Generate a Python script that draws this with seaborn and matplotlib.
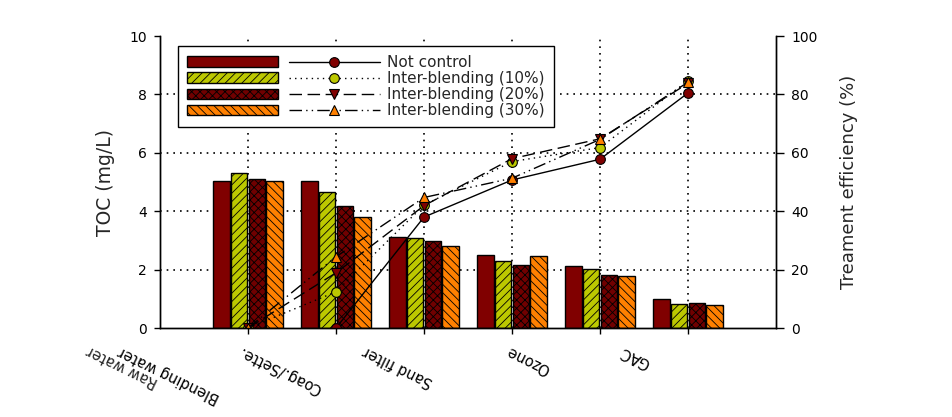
import matplotlib
matplotlib.use("Agg")
import numpy as np
import pandas as pd
import matplotlib.pyplot as plt
import seaborn as sns
from matplotlib.patches import Patch
from matplotlib.lines import Line2D
from matplotlib.legend_handler import HandlerTuple
from matplotlib.transforms import blended_transform_factory

# treatment stages (x tick labels) and where their labels sit
stages = ["Blending water", "Coag./Sette.", "Sand filter", "Ozone", "GAC"]
label_pos = [0.10, 1.365, 2.70, 4.19, 5.40]
extra_stage = "Raw water"
extra_pos = -0.43
group_pos = [1, 2, 3, 4, 5, 6]

series = ["Not control", "Inter-blending (10%)", "Inter-blending (20%)", "Inter-blending (30%)"]

# TOC (mg/L), bars
toc_not_control = [5.03, 5.03, 3.10, 2.50, 2.11, 0.99]
toc_blend10 = [5.30, 4.65, 3.07, 2.28, 2.01, 0.81]
toc_blend20 = [5.12, 4.17, 2.98, 2.15, 1.82, 0.85]
toc_blend30 = [5.03, 3.79, 2.81, 2.45, 1.77, 0.78]

# treatment efficiency (%), lines
eff_x_not_control = [2, 3, 4, 5, 6]
eff_not_control = [0, 38.0, 50.7, 57.8, 80.5]
eff_x_blend = [1, 2, 3, 4, 5, 6]
eff_blend10 = [0, 12.4, 42.1, 57.0, 61.8, 84.7]
eff_blend20 = [0, 18.9, 41.9, 58.0, 64.8, 83.8]
eff_blend30 = [0, 24.4, 44.7, 51.3, 64.6, 84.2]

dark_red = "#800000"
green = "#bcc800"
orange = "#ff8000"
bar_colors = [dark_red, green, "#700000", orange]
bar_hatches = [None, "////", "xxxx", "\\\\\\\\"]

line_styles = [
    dict(linestyle="-", marker="o", markerfacecolor=dark_red),
    dict(linestyle=(0, (1, 3)), marker="o", markerfacecolor=green),
    dict(linestyle=(0, (9, 4)), marker="v", markerfacecolor=dark_red),
    dict(linestyle=(0, (9, 3, 1, 3, 1, 3)), marker="^", markerfacecolor=orange),
]

sns.set_style("ticks")
plt.rcParams["font.family"] = ["DejaVu Sans"]
plt.rcParams["hatch.linewidth"] = 0.6
plt.rcParams["axes.edgecolor"] = "black"
plt.rcParams["axes.linewidth"] = 1
plt.rcParams["xtick.color"] = "black"
plt.rcParams["ytick.color"] = "black"

bars = pd.DataFrame({
    "pos": group_pos * 4,
    "toc": toc_not_control + toc_blend10 + toc_blend20 + toc_blend30,
    "series": np.repeat(series, len(group_pos)),
})

fig = plt.figure(figsize=(9.53, 4.17), dpi=100)
ax = fig.add_axes([0.1679, 0.2134, 0.6464, 0.7002])

sns.barplot(data=bars, x="pos", y="toc", hue="series", hue_order=series,
            palette=bar_colors, saturation=1, native_scale=True, width=0.8, gap=0.06,
            edgecolor="black", linewidth=1, errorbar=None, legend=False,
            ax=ax, zorder=2)
for cont, h in zip(ax.containers, bar_hatches):
    for b in cont:
        b.set_hatch(h)

ax.set_xlim(0, 7)
ax.set_ylim(0, 10)
ax.set_yticks(np.arange(0, 11, 2))
ax.set_xticks(group_pos, [""] * len(group_pos))
ax.set_xticks(label_pos, stages, minor=True)
ax.tick_params(axis="y", direction="out", length=4.5, width=1, pad=5, labelsize=10)
ax.tick_params(axis="x", which="major", direction="out", length=4, width=1)
ax.tick_params(axis="x", which="minor", length=0, pad=11, labelsize=10.5, labelrotation=154)
# second line of the first stage label sits left of the axis
ax.text(extra_pos, -0.050, extra_stage, rotation=154, ha="center", va="top",
        fontsize=10.5, transform=blended_transform_factory(ax.transData, ax.transAxes))
ax.set_xlabel("")
ax.set_ylabel("TOC (mg/L)", fontsize=13.5, labelpad=10)
ax.set_axisbelow(True)
ax.grid(True, which="major", linestyle=(0, (1, 3)), color="black", linewidth=1.2)
yt = ax.yaxis.get_major_ticks()
yt[0].gridline.set_visible(False)
yt[-1].gridline.set_visible(False)
ax.spines["top"].set_visible(False)

ax2 = ax.twinx()
eff_sets = [(eff_x_not_control, eff_not_control), (eff_x_blend, eff_blend10),
            (eff_x_blend, eff_blend20), (eff_x_blend, eff_blend30)]
for (xs, ys), st in zip(eff_sets, line_styles):
    sns.lineplot(x=xs, y=ys, ax=ax2, color="black", linewidth=1, markersize=7,
                 markeredgecolor="black", markeredgewidth=0.8, **st)
ax2.set_ylim(0, 100)
ax2.set_yticks(np.arange(0, 101, 20))
ax2.tick_params(axis="y", direction="out", length=6, width=1, pad=5, labelsize=10)
ax2.set_ylabel("Treament efficiency (%)", fontsize=13, labelpad=16)
ax2.spines["top"].set_visible(False)

handles = []
for c, h, st in zip(bar_colors, bar_hatches, line_styles):
    p = Patch(facecolor=c, hatch=h, edgecolor="black", linewidth=1)
    l = Line2D([], [], color="black", linewidth=1, markersize=7,
               markeredgecolor="black", markeredgewidth=0.8, **st)
    handles.append((p, l))
leg = ax2.legend(handles=handles, labels=series,
                 handler_map={tuple: HandlerTuple(ndivide=None, pad=0.7)},
                 loc="upper left", bbox_to_anchor=(0.029, 0.966), borderaxespad=0,
                 handlelength=12.6, handletextpad=0.5, borderpad=0.6,
                 labelspacing=0.07, fontsize=11, frameon=True, fancybox=False,
                 edgecolor="black", framealpha=1)
leg.get_frame().set_linewidth(1)

fig.savefig("out.png", dpi=100)
